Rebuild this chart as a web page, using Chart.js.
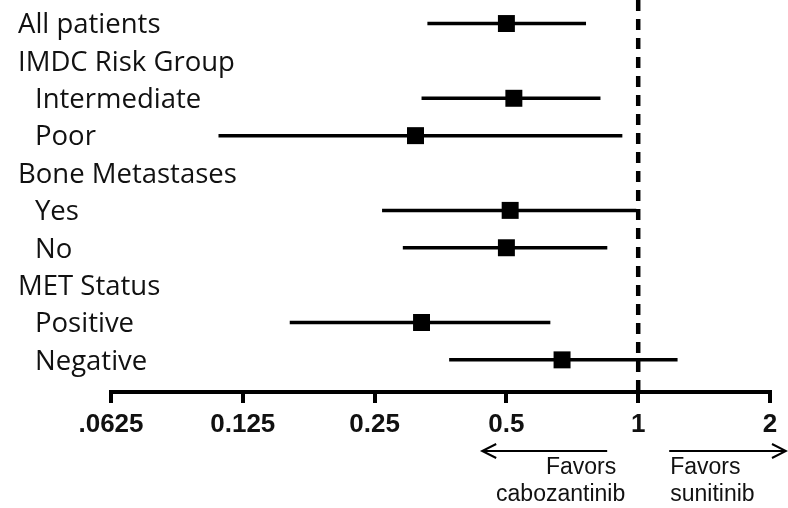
<!DOCTYPE html>
<html>
<head>
<meta charset="utf-8">
<script src="https://cdn.jsdelivr.net/npm/chart.js@4.4.1/dist/chart.umd.min.js"></script>
<style>
  html, body { margin: 0; padding: 0; background: #fff; }
  #wrap { width: 788px; height: 508px; }
</style>
</head>
<body>
<div id="wrap"><canvas id="c" width="788" height="508"></canvas></div>
<script>
// Subgroup rows, top to bottom
const rowLabels = ['All patients', 'IMDC Risk Group', 'Intermediate', 'Poor',
  'Bone Metastases', 'Yes', 'No', 'MET Status', 'Positive', 'Negative'];
const rowIndent = [0, 0, 1, 1, 0, 1, 1, 0, 1, 1];

// Hazard ratios with 95% confidence limits (null = heading row)
const hazardRatio = [0.50, null, 0.52, 0.31, null, 0.51, 0.50, null, 0.32, 0.67];
const ciLower     = [0.33, null, 0.32, 0.11, null, 0.26, 0.29, null, 0.16, 0.37];
const ciUpper     = [0.76, null, 0.82, 0.92, null, 0.99, 0.85, null, 0.63, 1.23];

// Log2 axis
const tickValues = [0.0625, 0.125, 0.25, 0.5, 1, 2];
const tickLabels = ['.0625', '0.125', '0.25', '0.5', '1', '2'];
const referenceHR = 1;

const favorLeft = ['Favors', 'cabozantinib'];
const favorRight = ['Favors', 'sunitinib'];

const datasets = [];

// whiskers
rowLabels.forEach((_, i) => {
  if (hazardRatio[i] === null) return;
  datasets.push({
    type: 'line',
    data: [{ x: ciLower[i], y: i }, { x: ciUpper[i], y: i }],
    borderColor: '#000',
    borderWidth: 3.5,
    pointRadius: 0,
    clip: false,
    order: 2
  });
});

// line of no effect
datasets.push({
  type: 'line',
  data: [{ x: referenceHR, y: -0.63 }, { x: referenceHR, y: 9.86 }],
  borderColor: '#000',
  borderWidth: 4.5,
  borderDash: [11, 8],
  pointRadius: 0,
  clip: false,
  order: 1
});

// point estimates
datasets.push({
  type: 'scatter',
  data: rowLabels.map((_, i) => hazardRatio[i] === null ? null : { x: hazardRatio[i], y: i })
                 .filter(p => p !== null),
  pointStyle: 'rect',
  pointRadius: 12,
  pointHoverRadius: 12,
  backgroundColor: '#000',
  borderWidth: 0,
  clip: false,
  order: 0
});

const annotationPlugin = {
  id: 'forestText',
  afterDraw(chart) {
    const { ctx, scales: { x, y } } = chart;
    ctx.save();
    // row labels
    ctx.font = '27.5px "Open Sans"';
    ctx.fillStyle = '#111';
    ctx.textBaseline = 'middle';
    ctx.textAlign = 'left';
    rowLabels.forEach((t, i) => {
      ctx.fillText(t, rowIndent[i] ? 35 : 18, y.getPixelForValue(i) + 2);
    });

    // direction arrows
    const x1 = x.getPixelForValue(referenceHR);
    const ay = 451;
    ctx.strokeStyle = '#000';
    ctx.lineWidth = 2;
    ctx.beginPath();
    ctx.moveTo(x1 - 31, ay); ctx.lineTo(x1 - 156, ay);
    ctx.moveTo(x1 - 142, ay - 7); ctx.lineTo(x1 - 156, ay); ctx.lineTo(x1 - 142, ay + 7);
    ctx.moveTo(x1 + 31, ay); ctx.lineTo(786, ay);
    ctx.moveTo(772, ay - 7); ctx.lineTo(786, ay); ctx.lineTo(772, ay + 7);
    ctx.stroke();

    ctx.font = '23px "Liberation Sans"';
    ctx.fillStyle = '#111';
    ctx.textAlign = 'right';
    ctx.fillText(favorLeft[0], x1 - 22, 468);
    ctx.fillText(favorLeft[1], x1 - 13, 495);
    ctx.textAlign = 'left';
    ctx.fillText(favorRight[0], x1 + 32, 468);
    ctx.fillText(favorRight[1], x1 + 32, 495);
    ctx.restore();
  }
};

new Chart(document.getElementById('c'), {
  data: { datasets },
  options: {
    responsive: false,
    animation: false,
    events: [],
    layout: { autoPadding: false, padding: { left: 111, right: 18, top: 0, bottom: 0 } },
    plugins: { legend: { display: false }, tooltip: { enabled: false } },
    scales: {
      x: {
        type: 'logarithmic',
        position: 'bottom',
        min: tickValues[0],
        max: tickValues[tickValues.length - 1],
        afterBuildTicks(scale) { scale.ticks = tickValues.map(v => ({ value: v })); },
        afterFit(scale) { scale.height = 116; },
        border: { display: true, color: '#000', width: 4 },
        grid: { drawOnChartArea: false, drawTicks: true, tickLength: 11, color: '#000', lineWidth: 4 },
        ticks: {
          autoSkip: false,
          maxRotation: 0,
          padding: 6,
          color: '#111',
          font: { family: '"Liberation Sans", Arial', size: 26, weight: 'bold' },
          callback: (v, i) => tickLabels[i]
        }
      },
      y: {
        type: 'linear',
        reverse: true,
        min: -0.63,
        max: 9.86,
        display: false
      }
    }
  },
  plugins: [annotationPlugin]
});
</script>
</body>
</html>
